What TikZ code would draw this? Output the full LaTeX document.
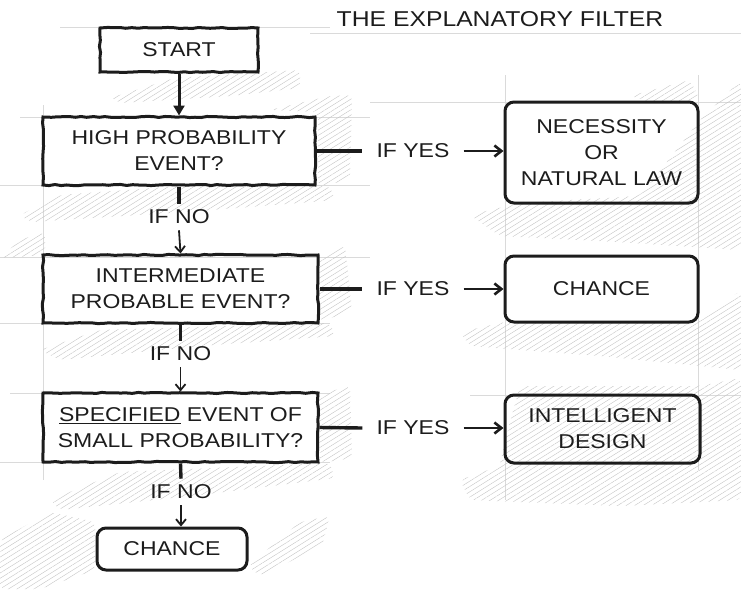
\documentclass[tikz,border=0pt]{standalone}
\usepackage{fontspec}
\newfontfamily\sketchfont[FakeStretch=1.15]{Liberation Sans}
\usetikzlibrary{
  arrows.meta,
  backgrounds,
  decorations.pathmorphing,
  patterns.meta
}
\definecolor{pencil}{RGB}{28,28,28}
\definecolor{hatchgray}{RGB}{196,196,196}
\definecolor{guidegray}{RGB}{218,218,218}
\tikzset{
  rough/.style={decorate,decoration={random steps,segment length=6pt,amplitude=0.6pt}},
  query/.style={draw=pencil,line width=3pt,align=center,inner sep=3pt,
    text=pencil,font=\sketchfont\fontsize{20}{26}\selectfont},
  verdict/.style={query,rounded corners=9pt},
  heading/.style={text=pencil,font=\sketchfont\fontsize{21.5}{26}\selectfont},
  lab/.style={text=pencil,font=\sketchfont\fontsize{20}{26}\selectfont,
    inner xsep=14pt,inner ysep=6pt},
  stub/.style={draw=pencil,line width=3.4pt},
  yesflow/.style={-{Straight Barb[length=7pt,width=11pt]},line width=2.6pt,draw=pencil},
  noflow/.style={-{Straight Barb[length=6pt,width=10pt]},line width=1.8pt,draw=pencil},
  startflow/.style={-{Triangle[length=10pt,width=11pt]},line width=3pt,draw=pencil},
  hatch/.style={pattern={Lines[angle=32,distance=4.5pt,line width=0.4pt]},
    pattern color=hatchgray,rounded corners=6pt},
  guide/.style={draw=guidegray,line width=0.5pt}
}
\pgfmathsetseed{11}

\begin{document}
\begin{tikzpicture}[x=1pt,y=-1pt]
  \useasboundingbox (0,0) rectangle (741,589);

  \node[heading] (title) at (500,19) {THE EXPLANATORY FILTER};

  % left column: the three questions
  \node[query,rough,minimum width=158pt,minimum height=44pt] (start) at (179,50) {START};
  \node[query,rough,minimum width=272pt,minimum height=68pt] (high) at (179,151) {
    HIGH PROBABILITY\\EVENT?};
  \node[query,rough,minimum width=275pt,minimum height=68pt] (mid) at (180.5,289) {
    INTERMEDIATE\\PROBABLE EVENT?};
  \node[query,rough,minimum width=275pt,minimum height=69pt] (spec) at (180.5,427.5) {
    \underline{SPECIFIED} EVENT OF\\SMALL PROBABILITY?};
  \node[verdict,minimum width=150pt,minimum height=42pt] (chancelow) at (172,549) {CHANCE};

  % right column: the verdicts
  \node[verdict,minimum width=193pt,minimum height=101pt] (law) at (601.5,152.5) {
    NECESSITY\\OR\\NATURAL LAW};
  \node[verdict,minimum width=193pt,minimum height=66pt] (chance) at (601.5,289) {CHANCE};
  \node[verdict,minimum width=195pt,minimum height=68pt] (design) at (602.5,429) {
    INTELLIGENT\\DESIGN};

  % yes branches
  \node[lab] (yesa) at (413,151) {IF YES};
  \node[lab] (yesb) at (413,289) {IF YES};
  \node[lab] (yesc) at (413,428) {IF YES};
  \draw[stub] (high.east)--(yesa.west);
  \draw[yesflow] (yesa.east)--(yesa.east-|law.west);
  \draw[stub] (mid.east)--(yesb.west);
  \draw[yesflow] (yesb.east)--(yesb.east-|chance.west);
  \draw[stub] (spec.east)--(yesc.west);
  \draw[yesflow] (yesc.east)--(yesc.east-|design.west);

  % no branches
  \node[lab] (noa) at (179,217) {IF NO};
  \node[lab] (nob) at (180.5,354) {IF NO};
  \node[lab] (noc) at (181,492) {IF NO};
  \draw[startflow] (start)--(high);
  \draw[stub] (high.south)--(noa.north);
  \draw[noflow] (noa.south)--(mid.north);
  \draw[stub] (mid.south)--(nob.north);
  \draw[noflow] (nob.south)--(spec.north);
  \draw[stub] (spec.south)--(noc.north);
  \draw[noflow] (noc.south)--(noc.south|-chancelow.north);

  % pencil shading and guide lines
  \begin{scope}[on background layer]
    \draw[guide] (60,27)--(330,27);
    \draw[guide] (310,33)--(741,33);
    \draw[guide] (20,117)--(370,117);
    \draw[guide] (0,185)--(370,185);
    \draw[guide] (0,257)--(370,257);
    \draw[guide] (0,323)--(330,323);
    \draw[guide] (10,393)--(330,393);
    \draw[guide] (0,462)--(330,462);
    \draw[guide] (370,102)--(741,102);
    \draw[guide] (470,395)--(741,395);
    \draw[guide] (43,105)--(43,480);
    \draw[guide] (505,75)--(505,500);
    \draw[guide] (698,75)--(698,470);
    \fill[hatch] (110,98)--(175,78)--(300,70)--(300,88)--(230,96)--(120,103)--cycle;
    \fill[hatch] (270,110)--(330,96)--(352,95)--(350,180)--(318,186)--(318,112)--cycle;
    \fill[hatch] (20,215)--(60,195)--(180,186)--(330,186)--(335,200)--(200,211)--(30,222)--cycle;
    \fill[hatch] (0,258)--(20,240)--(45,232)--(45,255)--cycle;
    \fill[hatch] (470,215)--(520,203)--(640,196)--(700,120)--(741,80)--(741,250)
      --(680,246)--(600,241)--(500,236)--cycle;
    \fill[hatch] (630,96)--(690,80)--(700,100)--(650,102)--cycle;
    \fill[hatch] (318,258)--(345,245)--(352,310)--(320,322)--cycle;
    \fill[hatch] (40,350)--(100,330)--(330,323)--(335,336)--(200,346)--(60,360)--cycle;
    \fill[hatch] (460,332)--(505,322)--(700,322)--(741,290)--(741,370)--(600,356)--(470,346)--cycle;
    \fill[hatch] (460,480)--(500,466)--(505,440)--(520,386)--(700,386)--(741,378)
      --(741,500)--(620,506)--(470,500)--cycle;
    \fill[hatch] (318,396)--(350,385)--(352,458)--(320,463)--cycle;
    \fill[hatch] (50,500)--(120,472)--(330,463)--(335,478)--(200,495)--(60,510)--cycle;
    \fill[hatch] (0,589)--(0,540)--(50,512)--(95,522)--(95,570)--(40,589)--cycle;
    \fill[hatch] (248,566)--(300,522)--(330,516)--(322,546)--(260,576)--cycle;
  \end{scope}
\end{tikzpicture}
\end{document}
